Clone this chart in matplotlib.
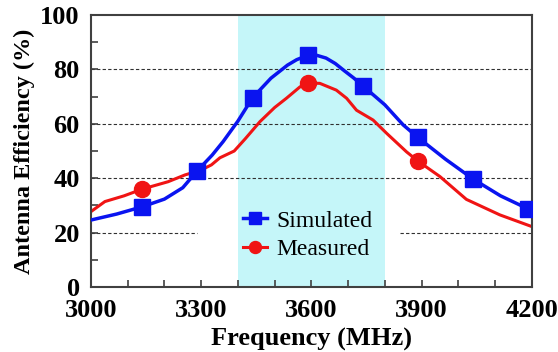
import matplotlib
matplotlib.use("Agg")
import matplotlib.pyplot as plt
from matplotlib.ticker import MultipleLocator

# simulated curve (MHz, %)
sim_f = [3000, 3070, 3140, 3200, 3250, 3290, 3330, 3360, 3400, 3440, 3490, 3535,
         3560, 3590, 3615, 3640, 3665, 3690, 3715, 3740, 3800, 3850, 3890, 3965,
         4040, 4115, 4190, 4200]
sim_v = [24.6, 26.8, 29.5, 32.3, 36.5, 42.8, 48.5, 53.5, 61.0, 69.6, 76.8, 81.6,
         83.6, 85.2, 85.2, 84.2, 82.2, 79.5, 76.9, 74.0, 67.0, 59.6, 55.0, 47.0,
         39.7, 33.5, 28.7, 28.3]
sim_marks = [3140, 3290, 3440, 3590, 3740, 3890, 4040, 4190]

# measured curve
meas_f = [3000, 3038, 3090, 3140, 3210, 3256, 3300, 3328, 3351, 3390, 3420, 3460,
          3500, 3532, 3569, 3590, 3623, 3668, 3696, 3723, 3768, 3805, 3859, 3890,
          3950, 4022, 4113, 4200]
meas_v = [27.7, 31.4, 33.5, 36.0, 38.7, 41.2, 43.0, 44.9, 47.5, 50.0, 54.5, 60.8,
          66.0, 69.4, 73.6, 75.0, 74.9, 72.4, 69.4, 65.0, 61.4, 56.5, 49.7, 46.3,
          40.6, 32.2, 26.5, 22.2]
meas_marks = [3140, 3590, 3890]

band = (3400, 3800)

plt.rcParams['font.family'] = ['Liberation Serif', 'DejaVu Serif']

fig = plt.figure(figsize=(5.58, 3.52), dpi=100)
ax = fig.add_axes([0.163, 0.185, 0.79, 0.772])

ax.axvspan(band[0], band[1], color='#c5f6f9', lw=0, zorder=0)

# dashed grid, the 20% line is broken where the legend sits
for y in [40, 60, 80]:
    ax.axhline(y, color='#303030', ls=(0, (3, 2)), lw=0.8, zorder=1)
ax.hlines(20, 3000, 3290, color='#303030', ls=(0, (3, 2)), lw=0.8, zorder=1)
ax.hlines(20, 3840, 4200, color='#303030', ls=(0, (3, 2)), lw=0.8, zorder=1)

ax.plot(sim_f, sim_v, color='#0a14f0', lw=2.5, marker='s', ms=11.5,
        markevery=[sim_f.index(f) for f in sim_marks], label='Simulated', zorder=3)
ax.plot(meas_f, meas_v, color='#f01414', lw=2.2, marker='o', ms=11.5,
        markevery=[meas_f.index(f) for f in meas_marks], label='Measured', zorder=2)

ax.set_xlim(3000, 4200)
ax.set_ylim(0, 100)
ax.xaxis.set_major_locator(MultipleLocator(300))
ax.xaxis.set_minor_locator(MultipleLocator(100))
ax.yaxis.set_major_locator(MultipleLocator(20))
ax.yaxis.set_minor_locator(MultipleLocator(10))
ax.tick_params(which='both', direction='in', length=5, width=1.2, color='#404040',
               top=False, right=False)
ax.tick_params(axis='x', pad=9, labelsize=19)
ax.tick_params(axis='y', pad=8, labelsize=19)
for lab in ax.get_xticklabels() + ax.get_yticklabels():
    lab.set_fontweight('bold')
for s in ax.spines.values():
    s.set_color('#404040')
    s.set_linewidth(1.5)

ax.set_xlabel('Frequency (MHz)', fontsize=19, fontweight='bold', labelpad=4)
ax.set_ylabel('Antenna Efficiency (%)', fontsize=17.5, fontweight='bold', labelpad=4)

leg = ax.legend(loc='center left', bbox_to_anchor=(0.345, 0.19), frameon=False,
                fontsize=17, handlelength=1.0, handletextpad=0.4, labelspacing=0.3,
                borderpad=0, borderaxespad=0, markerscale=0.75)

fig.savefig('out.png', dpi=100)
